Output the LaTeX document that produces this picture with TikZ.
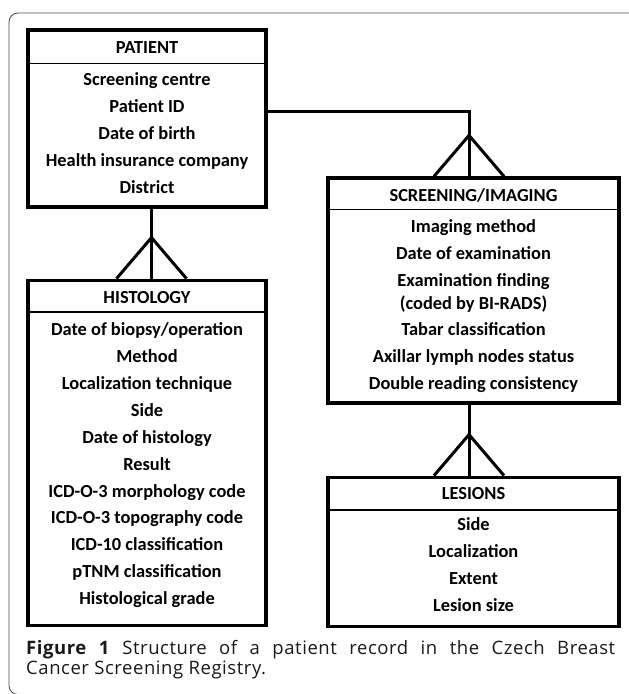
\documentclass[tikz,border=0pt]{standalone}
\usepackage{fontspec}
\setmainfont{Carlito}
\newfontfamily\capfont[LetterSpace=3]{Open Sans}
\usetikzlibrary{calc}
\usetikzlibrary{positioning}
\tikzset{
	entity/.style={
		rectangle,
		draw=black, line width=3.2pt,
		inner sep=0pt},
	field/.style={
		anchor=base,
		inner sep=0pt,
		font=\fontsize{18.4}{22}\selectfont\bfseries},
	split/.style={draw, line width=1.8pt},
	link/.style={draw, line width=3pt},
	frame/.style={draw=black!70, line width=0.8pt, rounded corners=9pt},
	caption/.style={
		anchor=base west,
		inner sep=0pt,
		text width=589pt,
		align=justify,
		text=black!90,
		font=\capfont\fontsize{18.5}{20}\selectfont},
}

\begin{document}
\begin{tikzpicture}
	[x=1pt, y=-1pt]
	\useasboundingbox (0,0) rectangle (629,694);
	\draw[frame] (640,13) -- (9,13) -- (9,694.5) -- (60,694.5);
	% entities
	\node[entity, minimum width=238pt, minimum height=177pt] (patient) at (147,118.5) {};
	\node[entity, minimum width=238pt, minimum height=345pt, below=70pt of patient] (histology) {};
	\node[entity, minimum width=291pt, minimum height=225pt] (screening) at (473.5,290.5) {};
	\node[entity, minimum width=291pt, minimum height=149pt, below=71pt of screening] (lesions) {};
	\foreach \e/\h in {patient/35, histology/33, screening/33, lesions/34}
		\draw[split] ($(\e.north west)+(0,\h)$) -- ($(\e.north east)+(0,\h)$);
	% titles
	\node[field] (patient-title) at ($(patient.north)+(0,25)$) {PATIENT};
	\node[field] (histology-title) at ($(histology.north)+(0,25)$) {HISTOLOGY};
	\node[field] (screening-title) at ($(screening.north)+(0,25)$) {SCREENING/IMAGING};
	\node[field] (lesions-title) at ($(lesions.north)+(0,24)$) {LESIONS};
	% attributes
	\foreach \t [count=\i from 0] in {Screening centre, Patient ID, Date of birth, Health insurance company, District}
		\node[field] (patient-\i) at ($(patient.north)+(0,57+27*\i)$) {\t};
	\foreach \t [count=\i from 0] in {Date of biopsy/operation, Method, Localization technique, Side, Date of histology, Result, ICD-O-3 morphology code, ICD-O-3 topography code, ICD-10 classification, pTNM classification, Histological grade}
		\node[field] (histology-\i) at ($(histology.north)+(0,57+26.9*\i)$) {\t};
	\foreach \y/\t [count=\i] in {56/Imaging method, 83/Date of examination, 110/Examination finding, 133/{(coded by BI-RADS)}, 159/Tabar classification, 186/Axillar lymph nodes status, 213/Double reading consistency}
		\node[field] (screening-\i) at ($(screening.north)+(0,\y)$) {\t};
	\foreach \t [count=\i from 0] in {Side, Localization, Extent, Lesion size}
		\node[field] (lesions-\i) at ($(lesions.north)+(0,55+27*\i)$) {\t};
	% relations
	\coordinate (pat-out) at ($(patient.east)+(0,-7.5)$);
	\coordinate (scr-in) at ($(screening.north)+(-4.5,0)$);
	\coordinate (pat-down) at ($(patient.south)+(4.5,0)$);
	\coordinate (his-in) at (pat-down |- histology.north);
	\coordinate (scr-out) at ($(screening.south)+(-4.5,0)$);
	\coordinate (les-in) at (scr-out |- lesions.north);
	\draw[link] (pat-out) -| (scr-in);
	\draw[link] (pat-down) -- (his-in);
	\draw[link] (scr-out) -- (les-in);
	\foreach \c in {his-in, scr-in, les-in}
		\draw[link] ($(\c)+(-35,0)$) -- ($(\c)+(0,-41)$) -- ($(\c)+(35,0)$);
	\node[caption] (caption) at (26,654) {\textbf{Figure 1} Structure of a patient record in the Czech Breast\linebreak Cancer Screening Registry.};
\end{tikzpicture}
\end{document}
